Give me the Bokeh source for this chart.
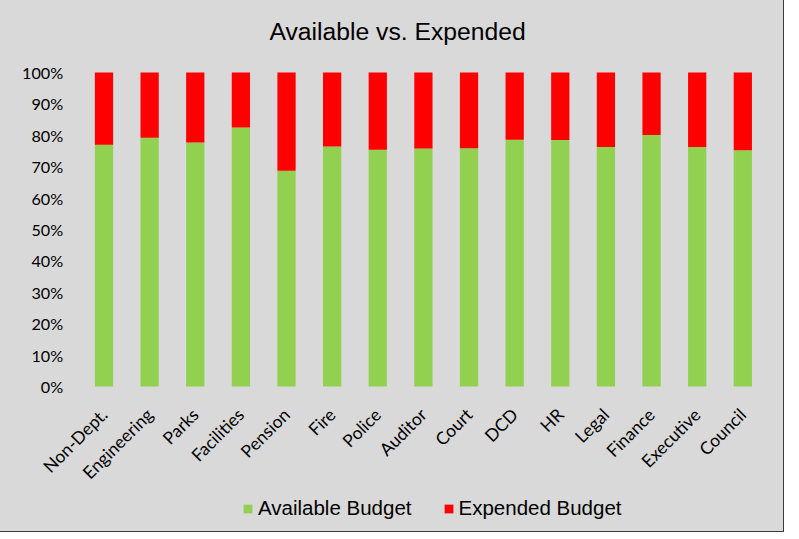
from bokeh.plotting import figure
from bokeh.models import ColumnDataSource, Range1d, FixedTicker, NumeralTickFormatter, Legend, LegendItem, Title
from bokeh.embed import file_html
from bokeh.resources import INLINE
import math

departments = ["Non-Dept.", "Engineering", "Parks", "Facilities", "Pension", "Fire", "Police",
               "Auditor", "Court", "DCD", "HR", "Legal", "Finance", "Executive", "Council"]
available = [0.770, 0.792, 0.777, 0.825, 0.687, 0.764, 0.754, 0.758, 0.759, 0.786, 0.785,
             0.763, 0.801, 0.763, 0.752]
expended = [round(1 - a, 3) for a in available]
y_ticks = [0, 0.1, 0.2, 0.3, 0.4, 0.5, 0.6, 0.7, 0.8, 0.9, 1.0]

positions = list(range(len(departments)))
source = ColumnDataSource(dict(pos=positions, dept=departments, available=available, expended=expended))

# Frame covers (nearly) the whole figure so rotated labels and legend are not clipped.
# Scale: 45.63 px per category (first centre at 103.5 px), 314 px per unit in y (0..1 = 386..72 px).
x_px = 45.63
y_px = 314
frame_top = 49
p = figure(width=783, height=531,
           x_range=Range1d((5 - 103.5) / x_px, (778 - 103.5) / x_px),
           y_range=Range1d(-140 / y_px, 1 + (72 - frame_top) / y_px),
           output_backend="svg", toolbar_location=None,
           min_border_left=5, min_border_right=5, min_border_top=frame_top, min_border_bottom=5)
p.background_fill_color = None
p.border_fill_color = None
p.outline_line_color = None
p.styles = {"outline": "1.5px solid #3a3a3a", "background-color": "#D9D9D9"}

renderers = p.vbar_stack(["available", "expended"], x="pos", width=0.4, source=source,
                         color=["#92D050", "#FF0000"], line_color=None)

p.title = Title(text="Available vs. Expended", align="left", offset=264, text_font="Liberation Sans",
                text_font_size="24.7px", text_font_style="normal", text_color="#000000",
                standoff=10)

p.xgrid.grid_line_color = None
p.ygrid.grid_line_color = None

for ax in (p.xaxis[0], p.yaxis[0]):
    ax.axis_line_color = None
    ax.major_tick_line_color = None
    ax.minor_tick_line_color = None
    ax.major_tick_out = 0
    ax.major_tick_in = 0
    ax.major_label_text_font = "Lato"
    ax.major_label_text_color = "#000000"

p.xaxis.fixed_location = 0
p.xaxis.ticker = FixedTicker(ticks=positions)
p.xaxis.major_label_overrides = {i: name for i, name in zip(positions, departments)}
p.xaxis.major_label_text_font_size = "17.5px"
p.xaxis.major_label_orientation = math.pi / 4
p.xaxis.major_label_standoff = 25

p.yaxis.fixed_location = -0.5
p.yaxis.ticker = FixedTicker(ticks=y_ticks)
p.yaxis.formatter = NumeralTickFormatter(format="0%")
p.yaxis.major_label_text_font_size = "16.2px"
p.yaxis.major_label_standoff = 18

legend = Legend(items=[LegendItem(label="Available Budget", renderers=[renderers[0]]),
                       LegendItem(label="Expended Budget", renderers=[renderers[1]])],
                orientation="horizontal", location=(237, 6),
                background_fill_alpha=0, border_line_color=None,
                label_text_font="Liberation Sans", label_text_font_size="20.5px",
                label_text_color="#000000",
                glyph_width=11, glyph_height=11, spacing=31, label_standoff=5, padding=0, margin=0)
p.add_layout(legend)

open("out.html", "w").write(file_html(p, INLINE))
